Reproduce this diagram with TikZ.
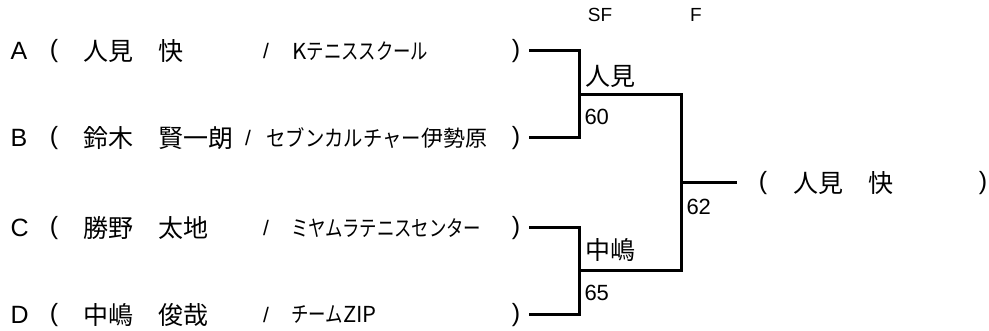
\documentclass[tikz,border=0pt]{standalone}
\usepackage{fontspec}
\usepackage{graphicx}
\setmainfont{Liberation Sans}
\newfontfamily\jp{Noto Sans CJK JP}
\newcommand{\kana}[2][0.79]{\scalebox{#1}[1]{#2}}

\begin{document}
\begin{tikzpicture}[x=1pt,y=-1pt,line width=3pt,
  every node/.style={inner sep=0pt},
  big/.style={font=\fontsize{25}{25}\selectfont},
  club/.style={font=\fontsize{22}{22}\selectfont\jp,anchor=west},
  small/.style={font=\fontsize{22}{22}\selectfont,anchor=west},
  head/.style={font=\fontsize{19}{19}\selectfont}]
  \useasboundingbox (0,0) rectangle (989,331);
  % entries
  \foreach \l/\y/\nm/\sx/\cb/\cx in {A/51/人見　快/266/K\kana{テニススクール}/291,
      B/138/鈴木　賢一朗/248/\kana[0.88]{セブンカルチャー}伊勢原/265,
      C/228/勝野　太地/266/\kana{ミヤムラテニスセンター}/290,
      D/315/中嶋　俊哉/266/\kana{チーム}ZIP/290} {
    \node[big,anchor=west] (let\l) at (9,\y) {\l};
    \node[big] (op\l) at (54,\y) {(};
    \node[big,anchor=west] (nm\l) at (82,\y) {\jp \nm};
    \node[font=\fontsize{21}{21}\selectfont] (sl\l) at (\sx,\y) {/};
    \node[club] (cb\l) at (\cx,\y) {\cb};
    \node[big] (cp\l) at (516,\y) {)};
    \coordinate (e\l) at (529,\y);
  }
  \node[head] (sf) at (600,15) {SF};
  \node[head] (f) at (696,15) {F};
  % bracket
  \coordinate (j1) at (579,95);
  \coordinate (j2) at (579,271);
  \coordinate (jf) at (681,183);
  \coordinate (w) at (737,183);
  \draw (eA) -| (j1) |- (eB);
  \draw (eC) -| (j2) |- (eD);
  \draw (j1) -| (jf) |- (j2);
  \draw (jf) -- (w);
  \node[big,anchor=west] (win1) at (584,76) {\jp 人見};
  \node[small] (sc1) at (583,117) {60};
  \node[big,anchor=west] (win2) at (584,250) {\jp 中嶋};
  \node[small] (sc2) at (583,293) {65};
  \node[small] (scf) at (685,207) {62};
  % champion
  \node[big] (fop) at (763,183) {(};
  \node[big,anchor=west] (champ) at (792,183) {\jp 人見　快};
  \node[big] (fcp) at (983,183) {)};
\end{tikzpicture}
\end{document}
